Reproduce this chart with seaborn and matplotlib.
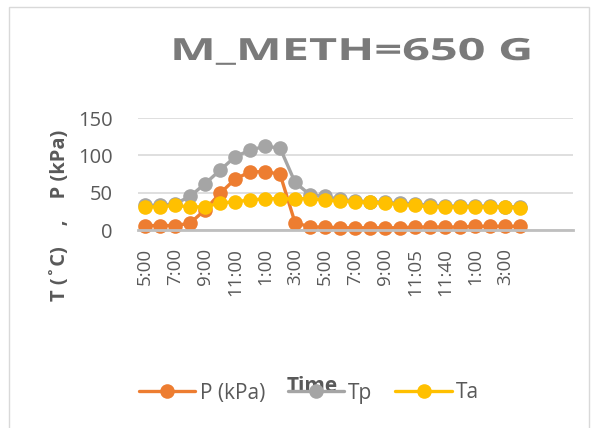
import numpy as np
import pandas as pd
import matplotlib.pyplot as plt
from matplotlib.patches import Rectangle
from matplotlib.patheffects import AbstractPathEffect
from matplotlib.transforms import Affine2D
import seaborn as sns

# Dados
tempo = ['5:00', '6:00', '7:00', '8:00', '9:00', '10:00', '11:00', '12:00', '1:00', '2:00',
         '3:00', '4:00', '5:00', '6:00', '7:00', '8:00', '9:00', '10:00', '11:05', '11:20',
         '11:40', '12:00', '1:00', '2:00', '3:00', '4:00']
p_kpa = [6, 6, 6, 9, 27, 49, 68, 78, 78, 75,
         10, 4, 4, 3, 3, 3, 3, 3, 4, 4,
         4, 4, 5, 5, 5, 5]
tp = [33, 33, 35, 45, 62, 80, 98, 107, 112, 110,
      64, 47, 45, 41, 39, 38, 37, 36, 35, 33,
      32, 32, 32, 32, 31, 31]
ta = [31, 31, 33, 31, 31, 36, 38, 40, 42, 42,
      42, 42, 40, 39, 38, 37, 36, 34, 33, 31,
      31, 31, 31, 31, 31, 30]


# o titulo do Excel e bem mais largo, entao estica o texto na horizontal
class Esticar(AbstractPathEffect):
    def __init__(self, sx):
        super().__init__()
        self.sx = sx

    def draw_path(self, renderer, gc, tpath, affine, rgbFace=None):
        renderer.draw_path(gc, tpath, Affine2D().scale(self.sx, 1) + affine, rgbFace)


sns.set_style('white')
plt.rcParams['font.family'] = ['Open Sans', 'DejaVu Sans']

cinza = '#595959'
df = pd.DataFrame({'x': np.arange(len(tempo)), 'P (kPa)': p_kpa, 'Tp': tp, 'Ta': ta})

fig = plt.figure(figsize=(5.92, 4.28), dpi=100)
ax = fig.add_axes([137.5 / 592, 1 - 230 / 428, (572.5 - 137.5) / 592, 112 / 428])

cores = {'P (kPa)': '#ED7D31', 'Tp': '#A5A5A5', 'Ta': '#FFC000'}
for nome in ['P (kPa)', 'Tp', 'Ta']:
    sns.lineplot(data=df, x='x', y=nome, ax=ax, color=cores[nome], linewidth=2.4,
                 marker='o', markersize=10.5, markeredgewidth=0, label=nome, clip_on=False)

ax.set_xlim(-0.5, 28.5)
ax.set_ylim(0, 150)
ax.set_yticks([0, 50, 100, 150])
ax.set_xticks(range(0, len(tempo), 2))
ax.set_xticklabels(tempo[::2], rotation=90)
ax.tick_params(axis='x', length=0, pad=13, labelsize=13.5, labelcolor=cinza)
ax.tick_params(axis='y', length=0, pad=18, labelsize=14.5, labelcolor=cinza)
ax.grid(axis='y', color='#d9d9d9', linewidth=1.2)
ax.set_axisbelow(True)
for s in ['top', 'right', 'left']:
    ax.spines[s].set_visible(False)
ax.spines['bottom'].set_color('#bfbfbf')
ax.spines['bottom'].set_linewidth(2)
ax.set_xlabel('')
ax.set_ylabel('')
ax.get_legend().remove()

titulo = fig.text(170 / 592, 1 - 60 / 428, 'M_METH=650 G', ha='left', va='baseline',
                  fontsize=22, fontweight='bold', color='#7a7a7a')
largura = titulo.get_window_extent(fig.canvas.get_renderer()).width
titulo.set_path_effects([Esticar(363 / largura)])

fig.text(60 / 592, 1 - 215 / 428, 'T (˚C)    ,    P (kPa)', rotation=90, ha='center',
         va='center', fontsize=14.5, fontweight='bold', color=cinza)
fig.text(312 / 592, 1 - 386 / 428, 'Time', ha='center', va='center',
         fontsize=15, fontweight='bold', color=cinza, zorder=1)

h, l = ax.get_legend_handles_labels()
leg = fig.legend(h, l, loc='center', bbox_to_anchor=(309 / 592, 1 - 393 / 428), ncol=3,
                 frameon=False, fontsize=15, handlelength=2.7, handletextpad=0.2,
                 columnspacing=1.1, labelcolor=cinza)
leg.set_zorder(5)

fig.patches.append(Rectangle((9 / 592, -0.01), 580 / 592, 1 - 7 / 428 + 0.01,
                             transform=fig.transFigure, fill=False,
                             edgecolor='#d9d9d9', linewidth=1))

fig.savefig('out.png', dpi=100, facecolor='white')
